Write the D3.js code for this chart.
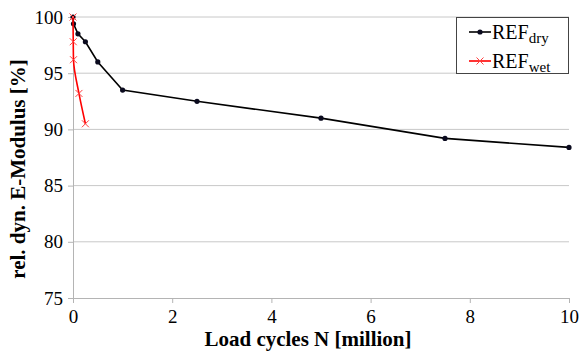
<!DOCTYPE html>
<html lang="en">
<head>
    <title>E-Modulus vs load cycles</title>
    <style>
    html, body { margin: 0; padding: 0; background: #fff; }
    </style>
</head>
<body>
<div id="chart"></div>
<script src="https://d3js.org/d3.v7.min.js"></script>
<script>
// load cycles in million, rel. dyn. E-modulus in %
var dryN = [0, 0.01, 0.1, 0.25, 0.5, 1, 2.5, 5, 7.5, 10];
var dryE = [100, 99.4, 98.5, 97.8, 96.0, 93.5, 92.5, 91.0, 89.2, 88.4];
var wetN = [0, 0.005, 0.01, 0.12, 0.25];
var wetE = [100, 97.8, 96.2, 93.2, 90.5];
var xTicks = [0, 2, 4, 6, 8, 10];
var yTicks = [75, 80, 85, 90, 95, 100];

var serif = "'Liberation Serif', 'Times New Roman', serif";
var W = 579, H = 354;
var mar = {top: 17, right: 10, bottom: 56, left: 73};

var x = d3.scaleLinear().domain([0, 10]).range([mar.left, W - mar.right]);
var y = d3.scaleLinear().domain([75, 100]).range([H - mar.bottom, mar.top]);

var svg = d3.select("#chart").append("svg").attr("width", W).attr("height", H);

// gridlines
svg.append("g").selectAll("line")
    .data(yTicks.filter(function(d){ return d > 75; }))
    .enter().append("line")
    .attr("x1", x(0)).attr("x2", x(10))
    .attr("y1", function(d){ return y(d); }).attr("y2", function(d){ return y(d); })
    .attr("stroke", "#c8c8c8").attr("stroke-width", 1);

svg.append("g")
    .attr("transform", "translate(" + x(0) + ",0)")
    .call(d3.axisLeft(y).tickValues(yTicks).tickSize(5).tickPadding(5));
svg.append("g")
    .attr("transform", "translate(0," + y(75) + ")")
    .call(d3.axisBottom(x).tickValues(xTicks).tickSize(5).tickPadding(7));
svg.selectAll(".domain, .tick line").attr("stroke", "#b4b4b4");
svg.selectAll(".tick text")
    .style("font-family", serif).style("font-size", "19px").attr("fill", "#000");

// axis titles
svg.append("text")
    .attr("x", 308).attr("y", 346).attr("text-anchor", "middle")
    .style("font-family", serif).style("font-weight", "bold").style("font-size", "21px")
    .text("Load cycles N [million]");
svg.append("text")
    .attr("transform", "translate(25,169) rotate(-90)")
    .attr("text-anchor", "middle")
    .style("font-family", serif).style("font-weight", "bold").style("font-size", "21px")
    .text("rel. dyn. E-Modulus [%]");

var line = d3.line()
    .x(function(d){ return x(d[0]); })
    .y(function(d){ return y(d[1]); });

var dry = dryN.map(function(v, i){ return [v, dryE[i]]; });
var wet = wetN.map(function(v, i){ return [v, wetE[i]]; });

svg.append("path").datum(dry).attr("d", line)
    .attr("fill", "none").attr("stroke", "#000").attr("stroke-width", 1.6);
svg.selectAll(".dry").data(dry).enter().append("circle")
    .attr("cx", function(d){ return x(d[0]); })
    .attr("cy", function(d){ return y(d[1]); })
    .attr("r", 2.6).attr("fill", "#0a0a1e");

function cross(g, cx, cy) {
    var s = 3.5;
    g.append("path")
        .attr("d", "M" + (cx - s) + "," + (cy - s) + "L" + (cx + s) + "," + (cy + s) +
                   "M" + (cx - s) + "," + (cy + s) + "L" + (cx + s) + "," + (cy - s))
        .attr("stroke", "#ff4040").attr("stroke-width", 1);
}

svg.append("path").datum(wet).attr("d", line.curve(d3.curveMonotoneY))
    .attr("fill", "none").attr("stroke", "#ff0000").attr("stroke-width", 1.6);
var wg = svg.append("g");
wet.forEach(function(d){ cross(wg, x(d[0]), y(d[1])); });

// legend
var lg = svg.append("g");
lg.append("rect").attr("x", 456.5).attr("y", 17.5).attr("width", 112).attr("height", 56)
    .attr("fill", "#fff").attr("stroke", "#444").attr("stroke-width", 1);
var rows = [{name: "REF", sub: "dry", c: "#000", yy: 32}, {name: "REF", sub: "wet", c: "#ff0000", yy: 61}];
rows.forEach(function(r, i){
    lg.append("line").attr("x1", 469).attr("x2", 491).attr("y1", r.yy).attr("y2", r.yy)
        .attr("stroke", r.c).attr("stroke-width", 1.6);
    if (i === 0) {
        lg.append("circle").attr("cx", 480).attr("cy", r.yy).attr("r", 2.6).attr("fill", "#0a0a1e");
    } else {
        cross(lg, 480, r.yy);
    }
    var t = lg.append("text").attr("x", 492).attr("y", r.yy + 7)
        .style("font-family", serif).style("font-size", "20px");
    t.append("tspan").text(r.name);
    t.append("tspan").attr("dy", 4).style("font-size", "15px").text(r.sub);
});
</script>
</body>
</html>
